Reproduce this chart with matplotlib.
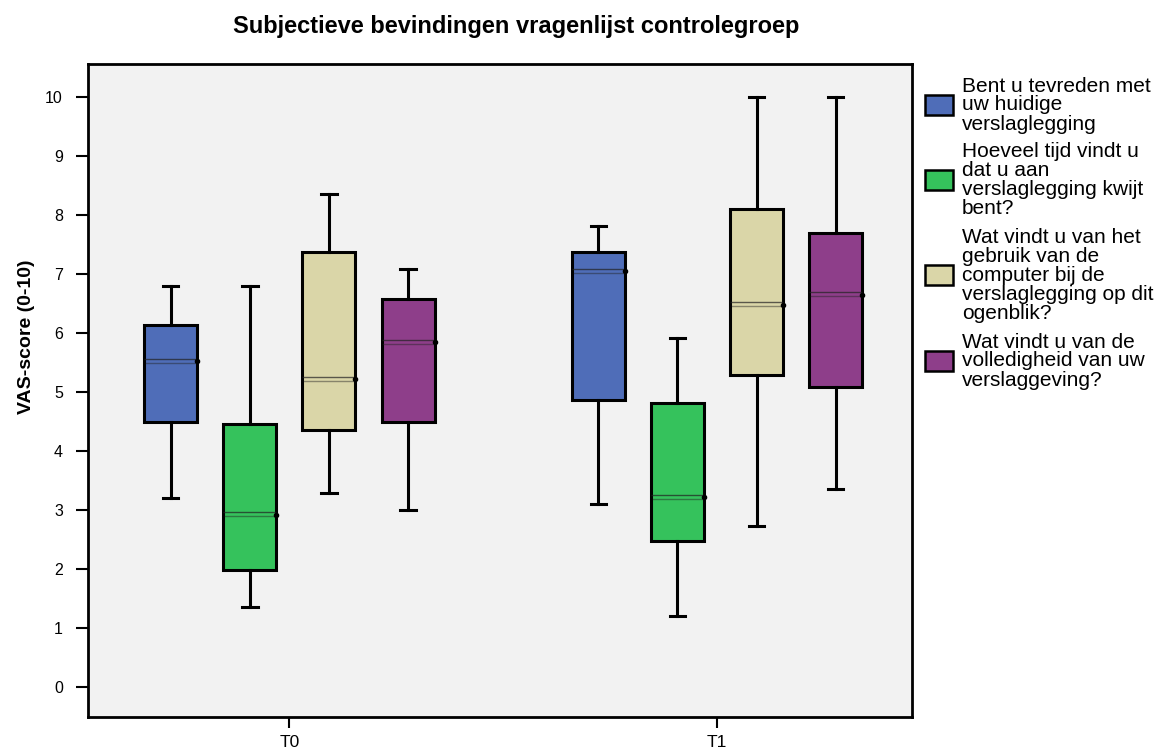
import matplotlib
matplotlib.use('Agg')
import matplotlib.pyplot as plt
from matplotlib.patches import Rectangle

plt.rcParams['font.family'] = ['Liberation Sans', 'DejaVu Sans']

# data
groups = ['T0', 'T1']
series = ['Bent u tevreden met\nuw huidige\nverslaglegging',
          'Hoeveel tijd vindt u\ndat u aan\nverslaglegging kwijt\nbent?',
          'Wat vindt u van het\ngebruik van de\ncomputer bij de\nverslaglegging op dit\nogenblik?',
          'Wat vindt u van de\nvolledigheid van uw\nverslaggeving?']
colors = ['#4f6db8', '#35c25c', '#dad6a8', '#8e3e8a']

# per group, per series
whislo = [[3.20, 1.36, 3.29, 3.00], [3.10, 1.20, 2.73, 3.36]]
q1 = [[4.49, 1.98, 4.36, 4.49], [4.86, 2.47, 5.29, 5.08]]
med = [[5.56, 2.97, 5.25, 5.88], [7.08, 3.25, 6.53, 6.69]]
q3 = [[6.14, 4.46, 7.37, 6.58], [7.37, 4.81, 8.10, 7.69]]
whishi = [[6.80, 6.80, 8.36, 7.08], [7.81, 5.91, 10.0, 10.0]]
mean = [[5.53, 2.92, 5.22, 5.85], [7.05, 3.22, 6.47, 6.64]]

fig = plt.figure(figsize=(11.66, 7.51), dpi=100)
ax = fig.add_axes([88/1166, 34/751, 824/1166, 653/751])
ax.set_facecolor('#f2f2f2')

step = 0.185
width = 0.124
for g in range(len(groups)):
    for s in range(len(series)):
        pos = g + (s - 1.5) * step
        st = dict(whislo=whislo[g][s], q1=q1[g][s], med=med[g][s],
                  q3=q3[g][s], whishi=whishi[g][s], fliers=[])
        ax.bxp([st], positions=[pos], widths=width, patch_artist=True,
               showfliers=False,
               boxprops=dict(facecolor=colors[s], edgecolor='black', linewidth=2.2),
               whiskerprops=dict(color='black', linewidth=2.2),
               capprops=dict(color='black', linewidth=2.2),
               medianprops=dict(color='#222222', linewidth=1, alpha=0.7),
               capwidths=0.036, manage_ticks=False)
        # second, fainter median line
        ax.plot([pos - width/2 + 0.004, pos + width/2 - 0.004],
                [med[g][s] - 0.068] * 2, color='#222222', lw=1, alpha=0.45, zorder=3)
        ax.plot(pos + width/2, mean[g][s], 'o', color='black', ms=3, zorder=4)

ax.set_xlim(-0.471, 1.456)
ax.set_ylim(-0.51, 10.56)
ax.set_xticks([0, 1])
ax.set_xticklabels(groups, fontsize=12.5)
ax.set_yticks(range(0, 11))
ax.tick_params(axis='y', length=9, width=1.5, labelsize=11.5, pad=9)
ax.tick_params(axis='x', length=8, width=1.5, pad=5)
for sp in ax.spines.values():
    sp.set_linewidth(2)

fig.text(27/1166, 1 - 337/751, 'VAS-score (0-10)', rotation=90,
         ha='center', va='center', fontsize=14, fontweight='bold')

fig.text(516/1166, 1 - 27/751, 'Subjectieve bevindingen vragenlijst controlegroep',
         ha='center', va='center', fontsize=17, fontweight='bold')

# legend drawn by hand
centers = [105, 180, 275, 361]
for s in range(len(series)):
    cy = 1 - centers[s]/751
    fig.patches.append(Rectangle((925/1166, cy - 10/751), 28/1166, 20/751,
                                 transform=fig.transFigure, facecolor=colors[s],
                                 edgecolor='black', linewidth=1.8))
    fig.text(962/1166, cy, series[s], ha='left', va='center', fontsize=15,
             linespacing=1.0)

fig.savefig('out.png', dpi=100)
